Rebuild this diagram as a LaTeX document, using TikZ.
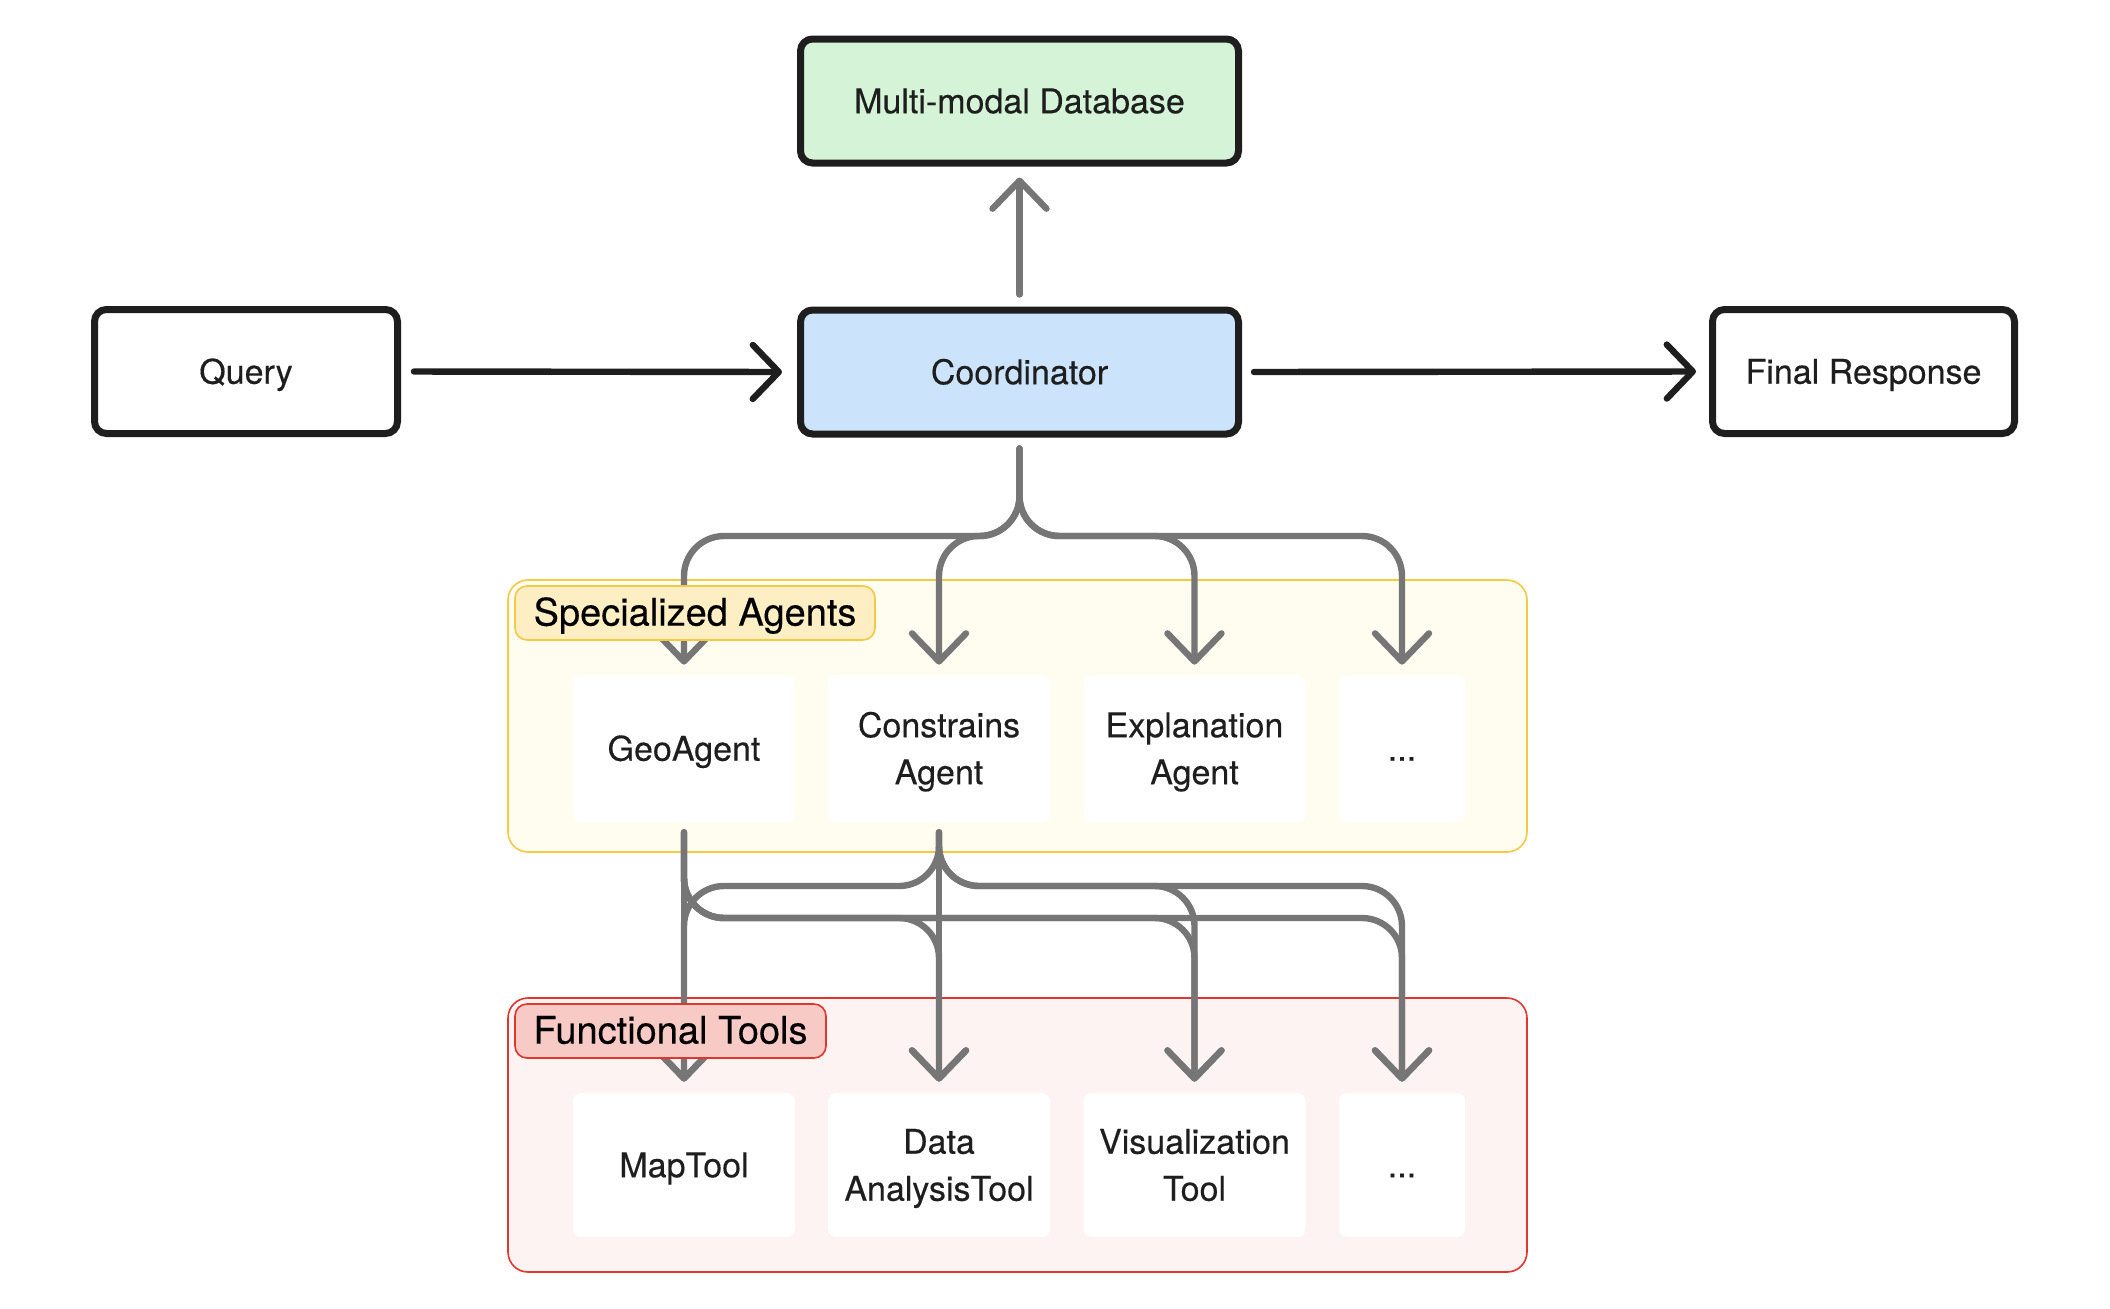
\documentclass[tikz,border=0pt]{standalone}
\usepackage{fontspec}
\setmainfont[FakeBold=0.3]{TeX Gyre Heros}
\usetikzlibrary{arrows.meta}
\definecolor{ink}{HTML}{1E1E1E}
\definecolor{gline}{HTML}{767676}
\definecolor{dbfill}{HTML}{D4F3D7}
\definecolor{cofill}{HTML}{CCE4FB}
\definecolor{yfill}{HTML}{FFFCF0}
\definecolor{yedge}{HTML}{F6C944}
\definecolor{ylab}{HTML}{FDEEC3}
\definecolor{rfill}{HTML}{FDF3F3}
\definecolor{redge}{HTML}{E0362C}
\definecolor{rlab}{HTML}{F7CAC5}
\begin{document}
\begin{tikzpicture}[x=0.5pt,y=-0.5pt,
  mainbox/.style={draw=ink, line width=3.5pt, rounded corners=6pt, inner sep=0pt, minimum height=62pt, font=\fontsize{17}{20}\selectfont, text=ink, text height=12.2pt, text depth=0pt},
  itembox/.style={fill=white, rounded corners=4pt, inner sep=0pt, minimum width=111pt, align=center, font=\fontsize{17}{23.5}\selectfont, text=ink},
  oneline/.style={text height=12.2pt, text depth=0pt},
  twoline/.style={text height=35.7pt, text depth=0pt},
  grouplab/.style={draw, line width=0.8pt, rounded corners=6pt, inner sep=0pt, minimum height=27pt, font=\fontsize{19}{22}\selectfont, text=black, text height=13.6pt, text depth=1pt},
  container/.style={line width=0.8pt, rounded corners=10pt},
  blackarrow/.style={draw=ink, line width=3.2pt, line cap=round, -{Straight Barb[length=13pt, width=27pt, round]}},
  grayarrow/.style={draw=gline, line width=3.2pt, line cap=round, rounded corners=20pt, -{Straight Barb[length=14pt, width=27pt, round]}},
]
\useasboundingbox (0,0) rectangle (2110,1308);
% containers
\draw[container, draw=yedge, fill=yfill] (508,580) rectangle (1527,852);
\draw[container, draw=redge, fill=rfill] (508,998) rectangle (1527,1272);
% main boxes
\node[mainbox, fill=dbfill, minimum width=219pt] (db) at (1019.5,101) {Multi-modal Database};
\node[mainbox, fill=cofill, minimum width=219pt] (coord) at (1019.5,372) {Coordinator};
\node[mainbox, fill=white, minimum width=151.5pt] (query) at (246,371.5) {Query};
\node[mainbox, fill=white, minimum width=151pt] (final) at (1863.5,371.5) {Final Response};
% agents
\node[itembox, oneline, minimum height=73.5pt] (a1) at (684,748.5) {GeoAgent};
\node[itembox, twoline, minimum height=73.5pt] (a2) at (939,748.5) {Constrains\\Agent};
\node[itembox, twoline, minimum height=73.5pt] (a3) at (1194.5,748.5) {Explanation\\Agent};
\node[itembox, oneline, minimum height=73.5pt, minimum width=63pt] (a4) at (1402,748.5) {...};
% tools
\node[itembox, oneline, minimum height=72pt] (t1) at (684,1165) {MapTool};
\node[itembox, twoline, minimum height=72pt] (t2) at (939,1165) {Data\\AnalysisTool};
\node[itembox, twoline, minimum height=72pt] (t3) at (1194.5,1165) {Visualization\\Tool};
\node[itembox, oneline, minimum height=72pt, minimum width=63pt] (t4) at (1402,1165) {...};
% rails
\coordinate (railA) at (0,536);
\coordinate (railB) at (0,886);
\coordinate (railC) at (0,918);
% black arrows
\draw[blackarrow, shorten <=6.5pt, shorten >=7.5pt] (query.east) -- (coord.west);
\draw[blackarrow, shorten <=6pt, shorten >=6.5pt] (coord.east) -- (final.west);
% gray arrows
\draw[grayarrow, shorten <=6pt, shorten >=5.5pt] (coord.north) -- (db.south);
\foreach \t in {a1,a2,a3,a4}
  \draw[grayarrow, shorten <=5.5pt, shorten >=5pt] (coord.south) -- (coord.south |- railA) -- (\t.north |- railA) -- (\t.north);
\draw[grayarrow, shorten <=5pt, shorten >=5.5pt] (a1.south) -- (t1.north);
\foreach \t in {t2,t3,t4}
  \draw[grayarrow, shorten <=5pt, shorten >=5.5pt] (a1.south) -- (a1.south |- railC) -- (\t.north |- railC) -- (\t.north);
\draw[grayarrow, shorten <=5pt, shorten >=5.5pt] (a2.south) -- (t2.north);
\foreach \t in {t1,t3,t4}
  \draw[grayarrow, shorten <=5pt, shorten >=5.5pt] (a2.south) -- (a2.south |- railB) -- (\t.north |- railB) -- (\t.north);
% group labels
\node[grouplab, draw=yedge, fill=ylab, minimum width=180pt] (labA) at (695,613) {Specialized Agents};
\node[grouplab, draw=redge, fill=rlab, minimum width=155.5pt] (labT) at (670.5,1031) {Functional Tools};
\end{tikzpicture}
\end{document}
